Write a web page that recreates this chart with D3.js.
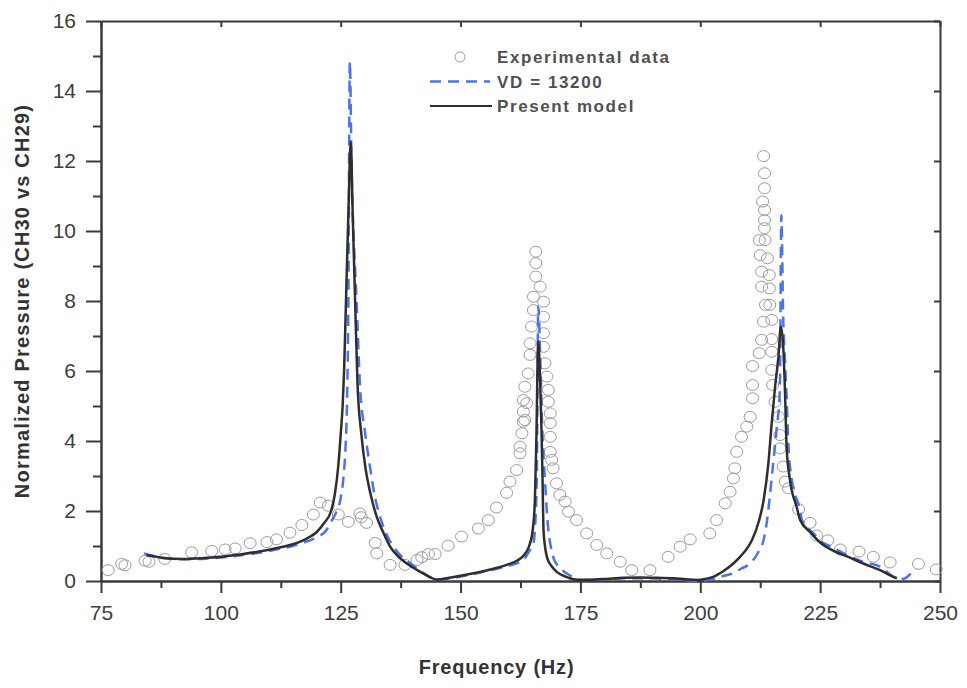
<!DOCTYPE html>
<html>
<head>
<meta charset="utf-8">
<title>Normalized pressure vs frequency</title>
<script src="https://cdn.jsdelivr.net/npm/d3@7"></script>
<style>
  body { margin: 0; background: #fff; }
  svg { font-family: "Liberation Sans", Arial, sans-serif; }
</style>
</head>
<body>
<div id="chart"></div>
<script>
// experimental data [frequency Hz, normalized pressure]
var expData = [
  [76.5,.31],[79.3,.49],[80,.45],[84.2,.58],[85,.55],[88.3,.63],[93.9,.82],[98.1,.86],[100.9,.9],[103,.93],
  [106.1,1.08],[109.6,1.11],[111.6,1.19],[114.4,1.38],[116.9,1.6],[119.3,1.9],[120.7,2.24],[122.4,2.15],
  [124.5,1.9],[126.6,1.69],[129,1.93],[129.3,1.82],[130.4,1.66],[132.2,1.09],[132.5,.79],[135.3,.46],
  [138.4,.46],[140.9,.6],[141.9,.68],[143.3,.77],[144.7,.77],[147.4,1.01],[150.2,1.27],[153.7,1.5],
  [155.8,1.74],[157.5,2.1],[159.6,2.52],[160.3,2.84],[161.7,3.17],[162.4,3.65],[162.4,3.84],[162.8,4.22],
  [163.4,4.6],[163.8,5.08],[163.1,4.55],[163.1,4.84],[163.1,5.17],[163.4,5.55],[164.1,5.93],[164.5,6.46],
  [164.5,6.79],[164.8,7.27],[165.2,7.74],[165.2,8.12],[165.7,8.7],[165.7,9.08],[165.7,9.41],[166.6,8.41],
  [167.3,7.98],[167.3,7.55],[167.3,7.08],[167.3,6.69],[167.6,6.22],[168,5.84],[168.3,5.46],[168.3,5.12],
  [168.7,4.79],[168.7,4.51],[168.7,4.12],[168.7,3.69],[169,3.46],[169.3,3.22],[170,2.79],[170.7,2.46],
  [171.8,2.27],[172.5,1.98],[174.2,1.74],[176.3,1.36],[178.4,1.03],[180.5,.79],[183.3,.55],[185.7,.31],
  [189.5,.31],[193.3,.69],[195.8,.98],[197.9,1.19],[202,1.36],[203.4,1.74],[205.2,2.22],[206.2,2.55],
  [206.9,2.93],[207.2,3.22],[207.6,3.69],[208.6,4.12],[209.7,4.41],[210.4,4.69],[210.9,5.22],[210.9,5.6],
  [210.9,6.14],[212.3,6.51],[212.8,6.89],[213.2,7.41],[213.6,7.89],[212.8,8.41],[212.8,8.84],[212.5,9.31],
  [212.3,9.74],[213.4,10.08],[213.4,10.31],[213.4,10.6],[213,10.84],[213.4,11.22],[213.4,11.65],[213.2,12.14],
  [213.5,9.74],[214,9.22],[214.4,8.74],[214.4,8.36],[214.5,7.89],[214.9,7.46],[214.9,6.91],[214.9,6.55],
  [214.9,6.03],[215.1,5.6],[215.6,5.12],[216.3,4.69],[216.6,4.17],[216.6,3.79],[217.3,3.27],[217.7,2.84],
  [218.4,2.65],[220.5,2.05],[222.9,1.66],[224.3,1.3],[226.6,1.16],[229.2,.9],[233.1,.84],[236.1,.69],
  [239.6,.53],[245.5,.49],[249.2,.33]
];

// VD = 13200
var vdData = [
  [84,.79],[88,.66],[92,.62],[96,.63],[100,.67],[104,.73],[108,.81],[112,.91],[115,1.0],[118,1.13],
  [120,1.25],[122,1.45],[122.8,1.65],[124,1.95],[124.9,2.31],[125.6,3.0],[126,3.8],[126.3,5],[126.6,8],
  [126.9,14.83],[127.3,11.5],[127.8,9.5],[128.3,8.03],[129,5.65],[130.1,4.22],[131.1,3.27],[132,2.5],
  [133.2,1.84],[134.5,1.35],[136,.98],[137.7,.7],[139.5,.5],[141.5,.3],[143.5,.12],[145,.04],[148,.08],
  [152.7,.2],[156,.3],[159.6,.42],[162,.52],[163.1,.6],[164.3,.85],[165.2,1.08],[165.5,1.46],[165.9,3],
  [166.2,7.84],[166.6,6.5],[167,4.5],[167.6,2.89],[168.3,1.46],[168.8,1.0],[169.3,.69],[170.5,.4],
  [172.1,.22],[174,.08],[175.6,.03],[178,.03],[181,.05],[184,.08],[187,.08],[191,.07],[194.4,.05],
  [197,.02],[199.3,0],[201.5,.03],[203,.07],[205,.15],[206.9,.22],[208.5,.35],[210.4,.5],[212,.8],
  [213.2,1.17],[214,1.8],[214.5,2.41],[215.2,3.36],[215.9,4.31],[216.6,5.46],[216.9,10.45],[217.3,7.5],
  [217.7,6.2],[218,5.27],[218.4,3.84],[219.1,2.89],[220.8,2.03],[221.2,1.74],[223.7,1.35],[225.5,1.1],
  [227.1,1.0],[229.5,.82],[232,.65],[234,.55],[237.5,.41],[240.3,.12],[242.3,.06],[244.1,.24]
];

// present model
var modelData = [
  [84.5,.74],[88,.66],[92,.63],[96,.65],[100,.69],[104,.76],[108,.84],[112,.95],[115,1.05],[118,1.22],
  [120,1.4],[121.5,1.65],[123,2.0],[123.8,2.5],[124.5,3.3],[125,4.2],[125.4,5],[125.7,6],[126.1,8],
  [126.6,10.5],[127.1,12.55],[127.5,10.5],[128,8],[128.5,5.65],[129.3,4.2],[130.2,3.2],[131.2,2.5],
  [132.5,1.84],[134,1.35],[135.3,.98],[137,.7],[138.8,.5],[141.5,.27],[143.5,.12],[145,.04],[148,.1],
  [152.7,.22],[156,.32],[159.6,.46],[162,.6],[163.3,.75],[164.3,1.0],[165,1.4],[165.5,2.3],[165.8,4],
  [166.2,6.84],[166.6,5.7],[166.9,4.2],[167.1,2.89],[167.3,1.46],[167.6,1.0],[168,.69],[169,.42],
  [170,.27],[172,.12],[174.9,.03],[178,.04],[180.5,.06],[184,.09],[187.4,.1],[191,.09],[194.4,.08],
  [197,.05],[199.3,.03],[201,.06],[202.7,.12],[205,.3],[206.9,.5],[209,.8],[210.8,1.17],[212.2,1.7],
  [213.2,2.3],[214.2,3.36],[214.9,4.51],[215.6,5.55],[216.3,6.41],[216.8,7.27],[217.3,6.7],[217.7,5.27],
  [218,3.84],[218.7,2.89],[220.1,2.12],[220.8,1.75],[222.9,1.4],[225,1.1],[227.5,.88],[231,.68],
  [234,.5],[237.5,.31],[240.6,.1],[241,.08]
];

var xTicks = [75, 100, 125, 150, 175, 200, 225, 250];
var yTicks = [0, 2, 4, 6, 8, 10, 12, 14, 16];

var legendLabels = ["Experimental data", "VD = 13200", "Present model"];

var W = 967, H = 688;
var margin = {top: 21, right: 27, bottom: 107, left: 101};
var width = W - margin.left - margin.right,
    height = H - margin.top - margin.bottom;

var svg = d3.select("#chart").append("svg")
    .attr("width", W).attr("height", H);

var g = svg.append("g")
    .attr("transform", "translate(" + margin.left + "," + margin.top + ")");

var x = d3.scaleLinear().domain([75, 250]).range([0, width]);
var y = d3.scaleLinear().domain([0, 16]).range([height, 0]);

var axisColor = "#3a3a3a";

// minor ticks
var xMinor = d3.range(75, 251, 12.5).filter(function(d) { return xTicks.indexOf(d) < 0; });
var yMinor = d3.range(1, 16, 2);

function styleAxis(sel) {
  sel.select(".domain").attr("stroke", axisColor).attr("stroke-width", 2);
  sel.selectAll(".tick line").attr("stroke", axisColor).attr("stroke-width", 2);
  sel.selectAll(".tick text").attr("fill", "#3d3d3d").attr("font-size", 21);
}

g.append("g")
  .attr("transform", "translate(0," + height + ")")
  .call(d3.axisBottom(x).tickValues(xMinor).tickSize(7).tickFormat("").tickSizeOuter(0))
  .call(styleAxis);
g.append("g")
  .attr("transform", "translate(0," + height + ")")
  .call(d3.axisBottom(x).tickValues(xTicks).tickSize(12).tickPadding(12).tickSizeOuter(0))
  .call(styleAxis);

g.append("g")
  .call(d3.axisLeft(y).tickValues(yMinor).tickSize(8).tickFormat("").tickSizeOuter(0))
  .call(styleAxis);
g.append("g")
  .call(d3.axisLeft(y).tickValues(yTicks).tickSize(15).tickPadding(10).tickSizeOuter(0))
  .call(styleAxis);

// top and right frame with small inward ticks
g.append("g")
  .call(d3.axisTop(x).tickValues(xTicks).tickSize(-6).tickFormat("").tickSizeOuter(0))
  .call(styleAxis);
g.append("g")
  .attr("transform", "translate(" + width + ",0)")
  .call(d3.axisRight(y).tickValues(yTicks).tickSize(-6).tickFormat("").tickSizeOuter(0))
  .call(styleAxis);

// axis titles
svg.append("text")
  .attr("x", margin.left + x(157.5)).attr("y", 674)
  .attr("text-anchor", "middle")
  .attr("font-size", 20).attr("font-weight", "bold")
  .attr("letter-spacing", 0.8)
  .attr("fill", "#333")
  .text("Frequency (Hz)");

svg.append("text")
  .attr("transform", "translate(29," + (margin.top + y(8.0)) + ") rotate(-90)")
  .attr("text-anchor", "middle")
  .attr("font-size", 20).attr("font-weight", "bold")
  .attr("letter-spacing", 1.2)
  .attr("fill", "#333")
  .text("Normalized Pressure (CH30 vs CH29)");

// experimental circles
g.append("g")
  .selectAll("ellipse")
  .data(expData)
  .enter().append("ellipse")
    .attr("cx", function(d) { return x(d[0]); })
    .attr("cy", function(d) { return y(d[1]); })
    .attr("rx", 6).attr("ry", 5.5)
    .attr("fill", "none")
    .attr("stroke", "#9c9c9c")
    .attr("stroke-width", 1);

var line = d3.line()
  .x(function(d) { return x(d[0]); })
  .y(function(d) { return y(d[1]); })
  .curve(d3.curveMonotoneX);

g.append("path")
  .datum(vdData)
  .attr("fill", "none")
  .attr("stroke", "#4a74e8")
  .attr("stroke-width", 2.5)
  .attr("stroke-dasharray", "11,7")
  .attr("d", line);

g.append("path")
  .datum(modelData)
  .attr("fill", "none")
  .attr("stroke", "#2e2e2e")
  .attr("stroke-width", 2.5)
  .attr("d", line);

// legend
var legend = svg.append("g").attr("transform", "translate(430,57)");
var rowGap = 24.5;
legend.append("circle")
  .attr("cx", 30).attr("cy", 0).attr("r", 5)
  .attr("fill", "none").attr("stroke", "#9c9c9c").attr("stroke-width", 1);
legend.append("line")
  .attr("x1", 0).attr("x2", 60).attr("y1", rowGap).attr("y2", rowGap)
  .attr("stroke", "#4a74e8").attr("stroke-width", 2.5).attr("stroke-dasharray", "11,7");
legend.append("line")
  .attr("x1", 0).attr("x2", 62).attr("y1", rowGap * 2).attr("y2", rowGap * 2)
  .attr("stroke", "#2e2e2e").attr("stroke-width", 2);

legend.selectAll("text.lbl")
  .data(legendLabels)
  .enter().append("text")
    .attr("class", "lbl")
    .attr("x", 67)
    .attr("y", function(d, i) { return i * rowGap + 6; })
    .attr("font-size", 17).attr("font-weight", "bold")
    .attr("letter-spacing", 1.6)
    .attr("fill", "#505050")
    .text(function(d) { return d; });
</script>
</body>
</html>
